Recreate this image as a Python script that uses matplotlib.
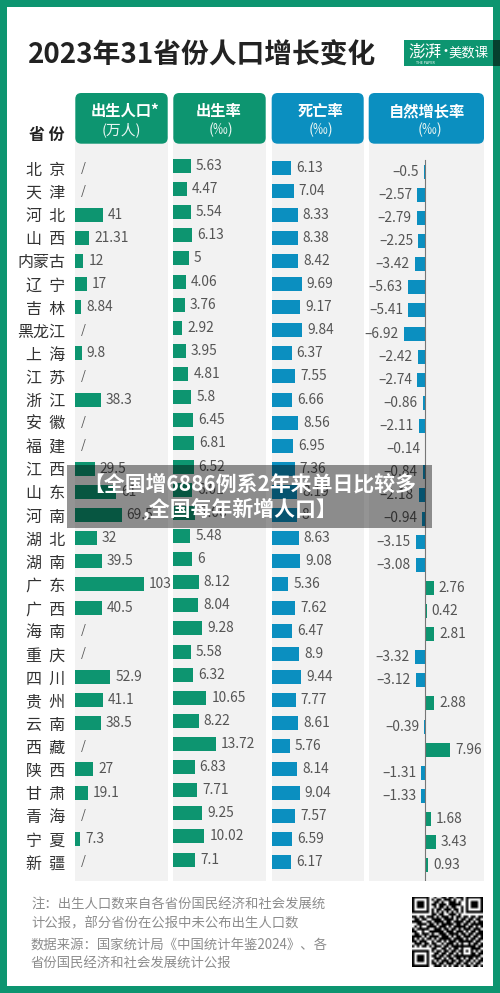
import numpy as np
import matplotlib
matplotlib.use("Agg")
import matplotlib.pyplot as plt
from matplotlib.patches import FancyBboxPatch, Rectangle

plt.rcParams["font.family"] = ["Noto Sans CJK SC", "DejaVu Sans"]

# ── data ──────────────────────────────────────────────────────────────────
PROVINCES = ["北  京", "天  津", "河  北", "山  西", "内蒙古", "辽  宁", "吉  林", "黑龙江",
             "上  海", "江  苏", "浙  江", "安  徽", "福  建", "江  西", "山  东", "河  南",
             "湖  北", "湖  南", "广  东", "广  西", "海  南", "重  庆", "四  川", "贵  州",
             "云  南", "西  藏", "陕  西", "甘  肃", "青  海", "宁  夏", "新  疆"]
BIRTHS = [None, None, 41, 21.31, 12, 17, 8.84, None, 9.8, None, 38.3, None, None, 29.5, 61, 69.5,
          32, 39.5, 103, 40.5, None, None, 52.9, 41.1, 38.5, None, 27, 19.1, None, 7.3, None]
BIRTH_RATE = [5.63, 4.47, 5.54, 6.13, 5, 4.06, 3.76, 2.92, 3.95, 4.81, 5.8, 6.45, 6.81, 6.52, 6.01, 7.06,
              5.48, 6, 8.12, 8.04, 9.28, 5.58, 6.32, 10.65, 8.22, 13.72, 6.83, 7.71, 9.25, 10.02, 7.1]
DEATH_RATE = [6.13, 7.04, 8.33, 8.38, 8.42, 9.69, 9.17, 9.84, 6.37, 7.55, 6.66, 8.56, 6.95, 7.36, 8.19, 8,
              8.63, 9.08, 5.36, 7.62, 6.47, 8.9, 9.44, 7.77, 8.61, 5.76, 8.14, 9.04, 7.57, 6.59, 6.17]
NATURAL = [-0.5, -2.57, -2.79, -2.25, -3.42, -5.63, -5.41, -6.92, -2.42, -2.74, -0.86, -2.11, -0.14, -0.84,
           -2.18, -0.94, -3.15, -3.08, 2.76, 0.42, 2.81, -3.32, -3.12, 2.88, -0.39, 7.96, -1.31, -1.33,
           1.68, 3.43, 0.93]

QR_ROWS = [
    "11111110010011011011101111111",
    "10000010101101110100101000001",
    "10111010011010011101001011101",
    "10111010110111011111001011101",
    "10111010010110101100101011101",
    "10000010101101110110101000001",
    "11111110101010101010101111111",
    "00000000110110011101000000000",
    "11011011101011101011011011011",
    "01101100111101111010110110110",
    "11110011011110110111101101011",
    "00111101101011111011011011111",
    "01010011110111010111110110101",
    "10111110011101101101011101110",
    "11001001111110111011101011011",
    "01101110100111011110110110111",
    "11110101111011101011011101101",
    "10101011010111110111101011011",
    "11011100101101011101111110110",
    "01110110110010111010100101101",
    "10101101011101101111111111011",
    "00000000110011010110100011110",
    "11111110101101101101101010101",
    "10000010011011011010100011011",
    "10111010110110110111111111110",
    "10111010011101011011010110101",
    "10111010101011101101101101011",
    "10000010110110111011011010110",
    "11111110011101010110101101101",
]

GREEN = "#0d9570"
BLUE = "#0b8fc0"
GREY_BG = "#f2f2f2"
LABEL = "#555555"
W, H = 500, 993
PANEL_TOP, PANEL_BOT = 136, 880.7
ROW_H = 23.12
BAR_H = 14 / ROW_H


def add_px_axes(x0, x1, y0, y1, **kw):
    # axes placed with picture pixels (y counted from the top)
    return fig.add_axes([x0 / W, 1 - y1 / H, (x1 - x0) / W, (y1 - y0) / H], **kw)


def data_panel(x0, x1, zero_x, row0, scale):
    ax = add_px_axes(x0, x1, PANEL_TOP, PANEL_BOT, facecolor=GREY_BG, zorder=2)
    ax.set_xlim((x0 - zero_x) / scale, (x1 - zero_x) / scale)
    ax.set_ylim((PANEL_BOT - row0) / ROW_H, (PANEL_TOP - row0) / ROW_H)
    for s in ax.spines.values():
        s.set_visible(False)
    ax.set_xticks([])
    ax.set_yticks([])
    return ax


def draw_bars(ax, values, colors):
    ypos = [i for i, v in enumerate(values) if v is not None]
    vals = [values[i] for i in ypos]
    cols = [colors[i] for i in ypos]
    ax.barh(ypos, vals, height=BAR_H, color=cols, zorder=2)
    for y, v in zip(ypos, vals):
        off, ha = (3.6, "left") if v >= 0 else (-3.6, "right")
        txt = f"{v:g}".replace("-", "–")
        ax.annotate(txt, (v, y), xytext=(off, 0), textcoords="offset points",
                    ha=ha, va="center", fontsize=9.9, color=LABEL, zorder=3)


fig = plt.figure(figsize=(W / 100, H / 100), dpi=100, facecolor=GREEN)

# white card inside the green frame
bg = add_px_axes(7, 493, 7, 986, facecolor="white", zorder=0)
bg.set_xticks([])
bg.set_yticks([])
for s in bg.spines.values():
    s.set_visible(False)

n = len(PROVINCES)

# births
ax1 = data_panel(75.3, 167.7, 75.3, 168.3, 0.665)
draw_bars(ax1, BIRTHS, [GREEN] * n)
for i, v in enumerate(BIRTHS):
    if v is None:
        ax1.annotate("/", (0, i), xytext=(6, 0), textcoords="offset points",
                     ha="center", va="center", fontsize=9, color=LABEL, style="italic")
ax1.set_yticks(range(n))
ax1.set_yticklabels(PROVINCES, fontsize=11.5, color="#333333")
ax1.tick_params(axis="y", length=0, pad=7.2)

# birth rate
ax2 = data_panel(173.3, 265.7, 173.3, 166.0, 3.11)
draw_bars(ax2, BIRTH_RATE, [GREEN] * n)

# death rate
ax3 = data_panel(271.7, 363.7, 271.7, 168.3, 3.11)
draw_bars(ax3, DEATH_RATE, [BLUE] * n)

# natural growth
ax4 = data_panel(368.7, 484, 425.3, 171.7, 3.11)
draw_bars(ax4, NATURAL, [GREEN if v > 0 else BLUE for v in NATURAL])
ax4.plot([0, 0], [-0.5, (PANEL_BOT - 171.7) / ROW_H], color="#777777", lw=0.8, zorder=4)

# pixel layer for headers, notes and the overlay banner
top = add_px_axes(0, W, 0, H, zorder=5)
top.set_xlim(0, W)
top.set_ylim(H, 0)
top.axis("off")

top.text(28, 55.5, "2023年31省份人口增长变化", fontsize=20, fontweight="bold",
         color="#222222", ha="left", va="center")
top.text(47, 135, "省 份", fontsize=11.5, fontweight="bold", color="#222222", ha="center", va="center")

headers = [
    (75.3, 167.7, GREEN, "出生人口*", 125, "(万人)", 121.5),
    (173.3, 265.7, GREEN, "出生率", 219, "(‰)", 221),
    (271.7, 363.7, BLUE, "死亡率", 320, "(‰)", 320.5),
    (368.7, 484, BLUE, "自然增长率", 427, "(‰)", 430),
]
for x0, x1, col, name, cx, unit, ux in headers:
    top.add_patch(FancyBboxPatch((x0 + 6, 99), x1 - x0 - 12, 38.7,
                                 boxstyle="round,pad=6,rounding_size=6",
                                 facecolor=col, edgecolor="none"))
    top.text(cx, 111, name, fontsize=11, fontweight="bold", color="white", ha="center", va="center")
    top.text(ux, 130, unit, fontsize=10.6, color="#e8f5f2", ha="center", va="center")

# logo
top.add_patch(Rectangle((404, 40), 96, 25.5, facecolor=GREEN, edgecolor="none"))
top.add_patch(Rectangle((493, 40), 7, 25.5, facecolor="#06402f", edgecolor="none"))
top.text(425, 51.5, "澎湃", fontsize=12, color="white", ha="center", va="center", style="italic")
top.text(446, 52, "·", fontsize=10, color="white", ha="center", va="center")
top.text(469, 52.5, "美数课", fontsize=9.6, color="white", ha="center", va="center")
top.text(425, 63, "THE PAPER", fontsize=2.6, color="white", ha="center", va="center")

# footnotes
NOTES = [(904.5, "注：出生人口数来自各省份国民经济和社会发展统"),
         (923, "计公报，部分省份在公报中未公布出生人口数"),
         (945.5, "数据来源：国家统计局《中国统计年鉴2024》、各"),
         (963, "省份国民经济和社会发展统计公报")]
for y, line in NOTES:
    top.text(31, y, line, fontsize=9.6, color="#8c8c8c", ha="left", va="center")

# QR code
qr = np.array([[int(c) for c in r.ljust(29, "0")[:29]] for r in QR_ROWS])
ax_qr = add_px_axes(412, 482.5, 896.5, 966.8, zorder=6)
ax_qr.imshow(1 - qr, cmap="gray", vmin=0, vmax=1, interpolation="bilinear", aspect="auto")
ax_qr.axis("off")

# translucent news banner over the chart
top.add_patch(Rectangle((67, 465), 365, 63, facecolor="black", alpha=0.42, edgecolor="none"))
top.text(250, 484, "【全国增6886例系2年来单日比较多", fontsize=15, fontweight="bold",
         color="white", ha="center", va="center")
top.text(240.5, 509, ",全国每年新增人口】", fontsize=15, fontweight="bold",
         color="white", ha="center", va="center")

fig.savefig("out.png", dpi=100, facecolor=fig.get_facecolor())
